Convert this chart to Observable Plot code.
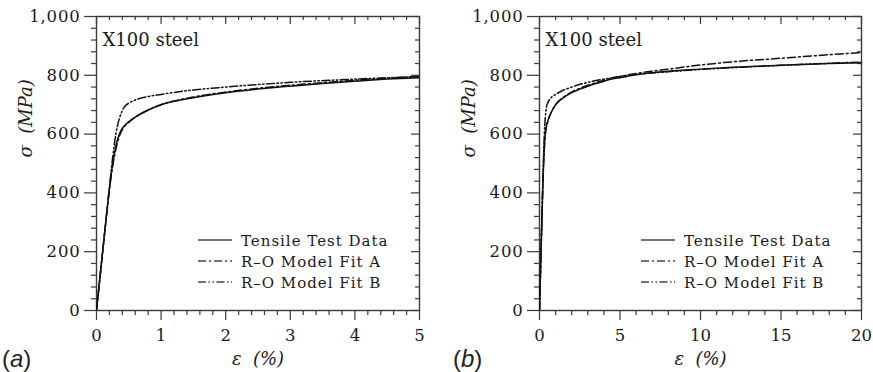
<!DOCTYPE html>
<html><head><meta charset="utf-8">
<script src="https://cdn.jsdelivr.net/npm/d3@7"></script>
<script src="https://cdn.jsdelivr.net/npm/@observablehq/plot@0.6"></script>
<style>
html,body{margin:0;padding:0;background:#fff;}
#wrap{position:relative;width:873px;height:372px;display:flex;overflow:hidden;}
.panel{position:relative;}
.overlay{position:absolute;left:0;top:0;pointer-events:none;}
</style></head><body>
<div id="wrap"></div>
<script>
// ---- data (strain in %, stress in MPa) ----
const testStrain = [0, 0.05, 0.1, 0.15, 0.2, 0.25, 0.3, 0.35, 0.4, 0.5, 0.6, 0.8, 1, 1.5, 2, 2.5, 3, 3.5, 4, 4.5, 5, 6, 7, 8, 10, 12, 15, 18, 20];
const testStress = [0, 105, 210, 315, 415, 500, 560, 598, 620, 642, 658, 682, 700, 724, 741, 753, 763, 772, 780, 787, 792, 802, 809, 814, 821, 827, 834, 840, 843];
const fitAStrain = [0, 0.05, 0.1, 0.15, 0.2, 0.25, 0.3, 0.35, 0.4, 0.5, 0.6, 0.8, 1, 1.5, 2, 2.5, 3, 4, 5, 6, 7, 8, 10, 12, 15, 18, 20];
const fitAStress = [0, 105, 210, 312, 410, 490, 548, 590, 615, 640, 657, 682, 700, 726, 743, 756, 766, 783, 796, 806, 814, 821, 835, 846, 858, 870, 877];
const fitBStrain = [0, 0.05, 0.1, 0.15, 0.2, 0.25, 0.3, 0.35, 0.4, 0.45, 0.5, 0.6, 0.8, 1, 1.5, 2, 3, 4, 5, 6, 7, 8, 10, 12, 15, 18, 20];
const fitBStress = [0, 105, 210, 315, 420, 520, 600, 650, 680, 697, 705, 716, 728, 735, 750, 760, 776, 787, 796, 803, 808, 812, 820, 826, 834, 841, 845];

const seriesNames = ["Tensile Test Data", "R\u2013O Model Fit A", "R\u2013O Model Fit B"];
const seriesDash = [null, "8,3,2,3", "8,2.5,1.5,2.5,1.5,2.5"];

const yMajor = [0, 200, 400, 600, 800, 1000];
const xMajorA = [0, 1, 2, 3, 4, 5];
const xMajorB = [0, 5, 10, 15, 20];
const annotation = "X100 steel";
const xLabel = "\u03b5  (%)";
const yLabel = "\u03c3  (MPa)";

const rows = (es, ss) => es.map((e, i) => ({e, s: ss[i]}));
const curves = [rows(testStrain, testStress), rows(fitAStrain, fitAStress), rows(fitBStrain, fitBStress)];

const fmt = d3.format(",");
const AX = "#3a3a3a";
const INK = "#1a1a1a";

function panel({width, marginLeft, marginRight, xmax, xMajor, xMinorStep, tag, tagX}) {
  const H = 372, mt = 16, mb = 62;
  const fh = H - mt - mb;
  const fw = width - marginLeft - marginRight;
  const xMinor = d3.range(0, xmax + 1e-9, xMinorStep).filter(v => !xMajor.some(m => Math.abs(m - v) < 1e-9));
  const yMinor = d3.range(0, 1000 + 1e-9, 40).filter(v => v % 200 !== 0);
  const tk = {stroke: AX, strokeWidth: 1.2};
  const marks = [
    Plot.tickX(xMinor, {x: d => d, insetTop: fh, insetBottom: -5, ...tk}),
    Plot.tickX(xMinor, {x: d => d, insetTop: 0, insetBottom: fh - 4, ...tk}),
    Plot.tickX(xMajor, {x: d => d, insetTop: 0, insetBottom: fh - 8, ...tk}),
    Plot.tickY(yMinor, {y: d => d, insetLeft: -5, insetRight: fw, ...tk}),
    Plot.tickY(yMinor, {y: d => d, insetLeft: fw - 4, insetRight: 0, ...tk}),
    Plot.tickY(yMajor, {y: d => d, insetLeft: fw - 8, insetRight: 0, ...tk}),
    Plot.axisX(xMajor, {anchor: "bottom", tickSize: 10, tickPadding: 9, tickFormat: d => fmt(d), label: null, stroke: AX, strokeWidth: 1.2, fill: INK, fontSize: 16}),
    Plot.axisY(yMajor, {anchor: "left", tickSize: 12, tickPadding: 4, tickFormat: d => fmt(d), label: null, stroke: AX, strokeWidth: 1.2, fill: INK, fontSize: 16}),
    Plot.frame({stroke: AX, strokeWidth: 1.4}),
    ...curves.map((c, i) => Plot.line(c, {x: "e", y: "s", curve: "monotone-x", stroke: "#111", strokeWidth: 1.5, strokeDasharray: seriesDash[i], clip: true})),
    Plot.text([annotation], {text: d => d, frameAnchor: "top-left", dx: 6, dy: 17, textAnchor: "start", lineAnchor: "top", fontSize: 18, fill: INK}),
    Plot.text([xLabel], {text: d => d, frameAnchor: "bottom", dy: 54, fontStyle: "italic", fontSize: 18, fill: INK}),
    Plot.text([yLabel], {text: d => d, frameAnchor: "left", dx: -70, dy: -6, rotate: -90, fontStyle: "italic", fontSize: 18, fill: INK})
  ];
  const svg = Plot.plot({
    width, height: H, marginTop: mt, marginBottom: mb, marginLeft, marginRight,
    x: {domain: [0, xmax]},
    y: {domain: [0, 1000]},
    style: {fontFamily: "'DejaVu Serif', serif", fontSize: "16px", color: INK, background: "#fff", overflow: "visible"},
    marks
  });
  d3.select(svg).selectAll('g[aria-label="y-axis tick label"] text')
    .attr("letter-spacing", 0.8).style("font-size", "16.5px");
  d3.select(svg).selectAll('g[aria-label="x-axis tick label"] text')
    .style("font-size", "16.5px");
  const div = document.createElement("div");
  div.className = "panel";
  div.style.width = width + "px";
  div.style.height = H + "px";
  div.appendChild(svg);
  const ov = d3.select(div).append("svg").attr("class", "overlay").attr("width", width).attr("height", H);
  const lx = marginLeft + 102, tx = marginLeft + 145;
  seriesNames.forEach((name, i) => {
    const y = 240 + i * 21;
    ov.append("line").attr("x1", lx).attr("x2", lx + 34).attr("y1", y).attr("y2", y)
      .attr("stroke", "#444").attr("stroke-width", 1.5).attr("stroke-dasharray", seriesDash[i]);
    ov.append("text").attr("x", tx).attr("y", y + 5.5).text(name)
      .attr("font-family", "'DejaVu Serif', serif").attr("font-size", 15).attr("fill", INK).attr("letter-spacing", 1);
  });
  const t = ov.append("text").attr("x", tagX).attr("y", 367).attr("font-family", "'Liberation Sans', Arial, sans-serif").attr("font-size", 24).attr("fill", "#222");
  t.append("tspan").text("(");
  t.append("tspan").attr("font-style", "italic").text(tag);
  t.append("tspan").text(")");
  return div;
}

const wrap = document.getElementById("wrap");
wrap.appendChild(panel({width: 436, marginLeft: 96, marginRight: 17, xmax: 5, xMajor: xMajorA, xMinorStep: 0.2, tag: "a", tagX: 2}));
wrap.appendChild(panel({width: 437, marginLeft: 103, marginRight: 12, xmax: 20, xMajor: xMajorB, xMinorStep: 1, tag: "b", tagX: 17}));
</script>
</body></html>
